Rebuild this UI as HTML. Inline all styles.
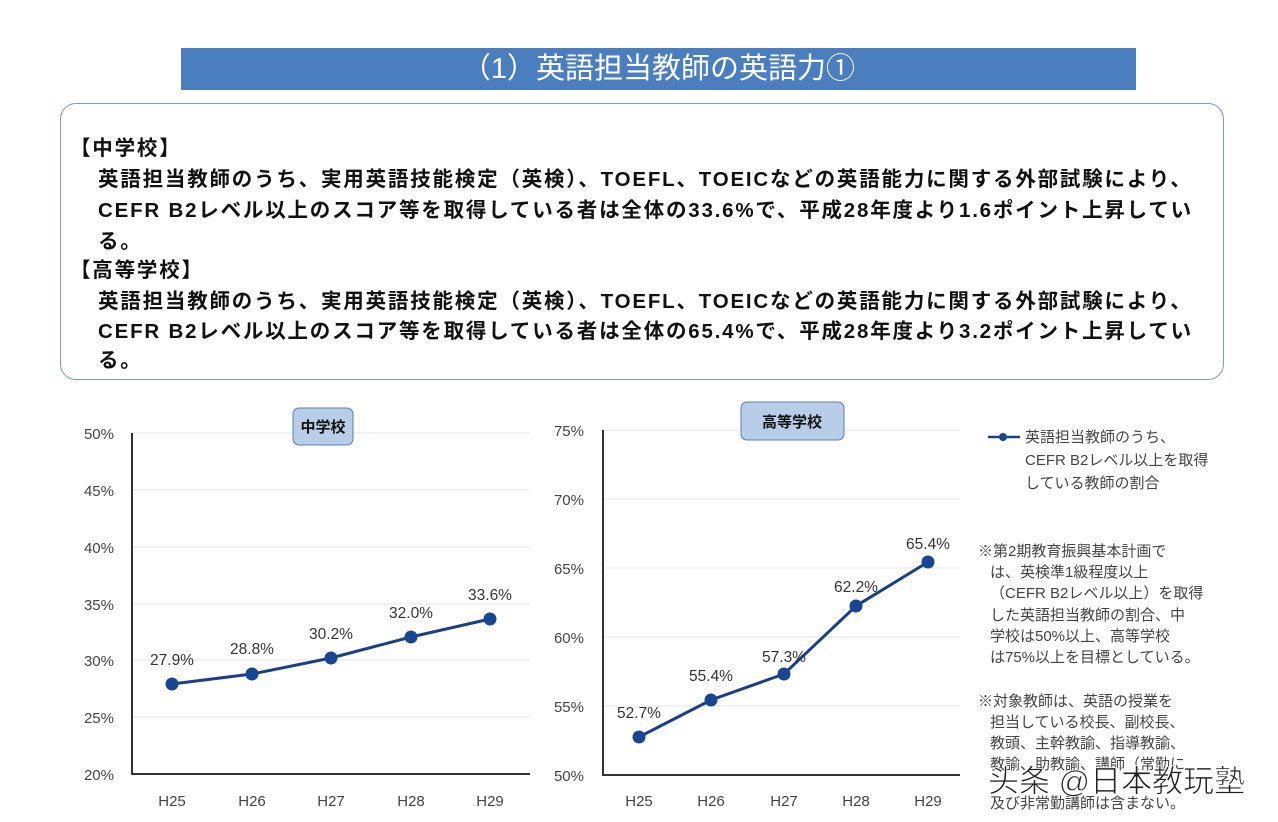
<!DOCTYPE html>
<html><head><meta charset="utf-8"><style>
body{margin:0;background:#fff;width:1278px;height:822px;overflow:hidden;position:relative;font-family:"Liberation Sans","Noto Sans CJK JP",sans-serif;}
.hdr{position:absolute;left:181px;top:48px;width:955px;height:42px;background:#4a7ebf;color:#fff;font-size:29px;text-align:center;line-height:42px;}
.box{position:absolute;left:60px;top:103px;width:1162px;height:275px;border:1.5px solid #7a9cc0;border-radius:16px;}
.l{position:absolute;font-size:20.5px;letter-spacing:1.8px;font-weight:bold;color:#111;white-space:nowrap;}
</style></head><body>
<div class="hdr">（1）英語担当教師の英語力①</div>
<div class="box"></div>
<div class="l" style="left:70px;top:131px">【中学校】</div>
<div class="l" style="left:98px;top:162px">英語担当教師のうち、実用英語技能検定（英検）、TOEFL、TOEICなどの英語能力に関する外部試験により、</div>
<div class="l" style="left:98px;top:193px">CEFR B2レベル以上のスコア等を取得している者は全体の33.6%で、平成28年度より1.6ポイント上昇してい</div>
<div class="l" style="left:98px;top:224px">る。</div>
<div class="l" style="left:70px;top:253px">【高等学校】</div>
<div class="l" style="left:98px;top:284px">英語担当教師のうち、実用英語技能検定（英検）、TOEFL、TOEICなどの英語能力に関する外部試験により、</div>
<div class="l" style="left:98px;top:314px">CEFR B2レベル以上のスコア等を取得している者は全体の65.4%で、平成28年度より3.2ポイント上昇してい</div>
<div class="l" style="left:98px;top:343px">る。</div>
<svg width="1278" height="822" style="position:absolute;left:0;top:0" font-family="Liberation Sans, Noto Sans CJK JP, sans-serif">
<g stroke="#e2e4ea" stroke-width="1">
<line x1="132" x2="530" y1="433" y2="433"/><line x1="132" x2="530" y1="490" y2="490"/><line x1="132" x2="530" y1="547" y2="547"/><line x1="132" x2="530" y1="604" y2="604"/><line x1="132" x2="530" y1="660" y2="660"/><line x1="132" x2="530" y1="717" y2="717"/>
<line x1="603" x2="960" y1="430" y2="430"/><line x1="603" x2="960" y1="499" y2="499"/><line x1="603" x2="960" y1="568" y2="568"/><line x1="603" x2="960" y1="637" y2="637"/><line x1="603" x2="960" y1="706" y2="706"/>
</g>
<g stroke="#333" stroke-width="2" fill="none">
<polyline points="132,433 132,774 530,774"/>
<polyline points="603,430 603,775 960,775"/>
</g>
<g font-size="15" fill="#444" text-anchor="end">
<text x="114" y="439">50%</text><text x="114" y="496">45%</text><text x="114" y="553">40%</text><text x="114" y="610">35%</text><text x="114" y="666">30%</text><text x="114" y="723">25%</text><text x="114" y="780">20%</text>
<text x="584" y="436">75%</text><text x="584" y="505">70%</text><text x="584" y="574">65%</text><text x="584" y="643">60%</text><text x="584" y="712">55%</text><text x="584" y="781">50%</text>
</g>
<g font-size="15" fill="#444" text-anchor="middle">
<text x="172" y="806">H25</text><text x="252" y="806">H26</text><text x="331" y="806">H27</text><text x="411" y="806">H28</text><text x="490" y="806">H29</text>
<text x="639" y="806">H25</text><text x="711" y="806">H26</text><text x="784" y="806">H27</text><text x="856" y="806">H28</text><text x="928" y="806">H29</text>
</g>
<polyline points="172,684 252,674 331,658 411,637 490,619" stroke="#1a3f88" stroke-width="3" fill="none"/>
<polyline points="639,737 711,700 784,674 856,606 928,562" stroke="#1a3f88" stroke-width="3" fill="none"/>
<g fill="#1a4590">
<circle cx="172" cy="684" r="6.5"/><circle cx="252" cy="674" r="6.5"/><circle cx="331" cy="658" r="6.5"/><circle cx="411" cy="637" r="6.5"/><circle cx="490" cy="619" r="6.5"/>
<circle cx="639" cy="737" r="6.5"/><circle cx="711" cy="700" r="6.5"/><circle cx="784" cy="674" r="6.5"/><circle cx="856" cy="606" r="6.5"/><circle cx="928" cy="562" r="6.5"/>
</g>
<g font-size="15.5" fill="#333" text-anchor="middle">
<text x="172" y="665">27.9%</text><text x="252" y="654">28.8%</text><text x="331" y="639">30.2%</text><text x="411" y="618">32.0%</text><text x="490" y="600">33.6%</text>
<text x="639" y="718">52.7%</text><text x="711" y="681">55.4%</text><text x="784" y="662">57.3%</text><text x="856" y="592">62.2%</text><text x="928" y="549">65.4%</text>
</g>
<rect x="293" y="408" width="60" height="37" rx="6" fill="#b7cde8" stroke="#5a7fb0" stroke-width="1"/>
<text x="323" y="432" font-size="15" font-weight="bold" text-anchor="middle" fill="#111">中学校</text>
<rect x="741" y="402" width="103" height="38" rx="6" fill="#b7cde8" stroke="#5a7fb0" stroke-width="1"/>
<text x="792" y="427" font-size="15" font-weight="bold" text-anchor="middle" fill="#111">高等学校</text>
<line x1="988" y1="437" x2="1020" y2="437" stroke="#1a3f88" stroke-width="2.5"/><circle cx="1003" cy="437" r="4" fill="#1a4590"/>
<g font-size="15" fill="#444">
<text x="1025" y="442">英語担当教師のうち、</text>
<text x="1025" y="465">CEFR B2レベル以上を取得</text>
<text x="1025" y="488">している教師の割合</text>
<text x="978" y="556">※第2期教育振興基本計画で</text>
<text x="990" y="577">は、英検準1級程度以上</text>
<text x="990" y="598">（CEFR B2レベル以上）を取得</text>
<text x="990" y="620">した英語担当教師の割合、中</text>
<text x="990" y="641">学校は50%以上、高等学校</text>
<text x="990" y="662">は75%以上を目標としている。</text>
<text x="978" y="706">※対象教師は、英語の授業を</text>
<text x="990" y="727">担当している校長、副校長、</text>
<text x="990" y="748">教頭、主幹教諭、指導教諭、</text>
<text x="990" y="769">教諭、助教諭、講師（常勤に</text>
<text x="990" y="808">及び非常勤講師は含まない。</text>
</g>
<text x="988" y="792" font-size="31" fill="#222" stroke="#fff" stroke-width="0.8">头条 @日本教玩塾</text>
</svg>
</body></html>
